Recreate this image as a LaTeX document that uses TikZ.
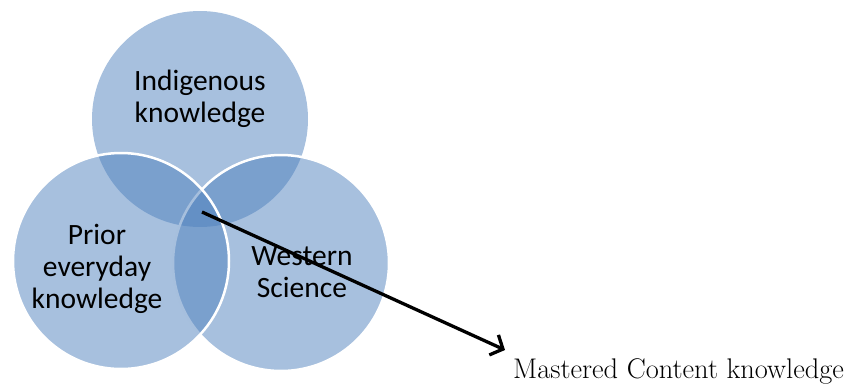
\documentclass[tikz,border=0pt]{standalone}
\usepackage{fontspec}
\newfontfamily\calib{Carlito}
\usetikzlibrary{arrows.meta}
\definecolor{vennblue}{RGB}{79,129,189}
\tikzset{
  venn/.style={circle, fill=vennblue, fill opacity=0.5, inner sep=0pt, minimum size=216pt},
  vennline/.style={draw=white, line width=2.5pt},
  lbl/.style={font=\calib\fontsize{29.5}{32}\selectfont, align=center, text=black, inner sep=0pt},
  pointer/.style={draw=black, line width=3.3pt, -{Straight Barb[length=10pt,width=22pt,line width=3.3pt]}}
}
\begin{document}
\begin{tikzpicture}[x=1pt,y=-1pt]
\useasboundingbox (0,0) rectangle (848,383);
\node[venn] (top) at (200,119) {};
\node[venn, vennline] (right) at (281,263) {};
\node[venn, vennline] (left) at (121,261) {};
\node[lbl] (ik) at (200,99) {Indigenous\\knowledge};
\node[lbl] (pek) at (97,269) {Prior\\everyday\\knowledge};
\node[lbl] (ws) at (302,272) {Western\\Science};
\coordinate (start) at (202,212);
\coordinate (tip) at (505,350);
\draw[pointer] (start) -- (tip);
\node[anchor=base west, inner sep=0pt, font=\fontsize{28.4}{32}\selectfont] (mck) at (513,378) {Mastered Content knowledge};
\end{tikzpicture}
\end{document}
